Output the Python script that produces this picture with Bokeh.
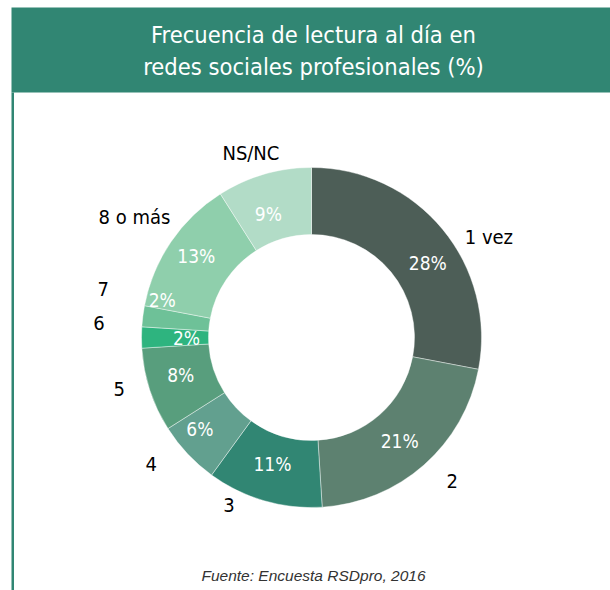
import math
from bokeh.plotting import figure
from bokeh.models import ColumnDataSource, Range1d
from bokeh.core.properties import value
from bokeh.embed import file_html
from bokeh.resources import INLINE

# ---- data ----
categories = ["1 vez", "2", "3", "4", "5", "6", "7", "8 o más", "NS/NC"]
percent = [28, 21, 11, 6, 8, 2, 2, 13, 9]
title_lines = ["Frecuencia de lectura al día en", "redes sociales profesionales (%)"]
source_note = "Fuente: Encuesta RSDpro, 2016"

# ---- style / layout ----
colors = ["#4d5e57", "#5d8170", "#318673", "#62a08f", "#589e7d",
          "#2eb47f", "#6ec198", "#8fcfac", "#b2dcc7"]
BANNER = "#318673"
W, H = 610, 590
CX, CY = 311, -337
R_IN, R_OUT = 103, 170
cat_nudge_deg = [10, -3, 10, 5, 3, 4, 6, 0, -2]
cat_radius = [204, 201, 187, 204, 199, 213, 214, 214, 194]
pct_nudge_deg = [7, 1, 1, 4, 2, 0, 7, 1, -3]
pct_radius = [138, 136, 132, 144, 136, 125, 154, 141, 131]
NARROW = "DejaVu Sans Condensed"

total = float(sum(percent))
starts, ends, mids = [], [], []
cum = 0.0
for v in percent:
    a0 = cum / total
    cum += v
    a1 = cum / total
    starts.append(math.pi / 2 - a0 * 2 * math.pi)
    ends.append(math.pi / 2 - a1 * 2 * math.pi)
    mids.append((a0 + a1) / 2 * 2 * math.pi)  # clockwise from top

def polar(theta_list, nudges, radii):
    xs, ys = [], []
    for t, n, r in zip(theta_list, nudges, radii):
        th = t + math.radians(n)
        xs.append(CX + r * math.sin(th))
        ys.append(CY + r * math.cos(th))
    return xs, ys

cx_lab, cy_lab = polar(mids, cat_nudge_deg, cat_radius)
px_lab, py_lab = polar(mids, pct_nudge_deg, pct_radius)

src = ColumnDataSource(dict(
    cat=categories, pct=[f"{v}%" for v in percent], color=colors,
    start=starts, end=ends, cx=cx_lab, cy=cy_lab, px=px_lab, py=py_lab,
))

p = figure(width=W, height=H, output_backend="svg", toolbar_location=None,
           x_range=Range1d(0, W), y_range=Range1d(-H, 0),
           min_border=0, outline_line_color=None)
p.axis.visible = False
p.grid.visible = False
p.background_fill_color = "white"
p.border_fill_color = "white"

# banner and left rule
p.quad(left=11, right=W, top=-7, bottom=-92, fill_color=BANNER, line_color=None)
p.quad(left=11, right=13.5, top=-92, bottom=-H, fill_color=BANNER, line_color=None)

tsrc = ColumnDataSource(dict(x=[313, 313], y=[-34, -66], t=title_lines))
p.text(x="x", y="y", text="t", source=tsrc, text_color="white",
       text_font=value(NARROW), text_font_size="23.5px",
       text_align="center", text_baseline="middle")

# donut
p.annular_wedge(x=CX, y=CY, inner_radius=R_IN, outer_radius=R_OUT,
                start_angle="start", end_angle="end", direction="clock",
                fill_color="color", line_color="white", line_width=0.7,
                line_alpha=0.6, source=src)

p.text(x="px", y="py", text="pct", source=src, text_color="white",
       text_font=value(NARROW), text_font_size="19px",
       text_align="center", text_baseline="middle")
p.text(x="cx", y="cy", text="cat", source=src, text_color="black",
       text_font=value(NARROW), text_font_size="20px",
       text_align="center", text_baseline="middle")

fsrc = ColumnDataSource(dict(x=[313], y=[-575], t=[source_note]))
p.text(x="x", y="y", text="t", source=fsrc, text_color="#333333",
       text_font=value("Liberation Sans"), text_font_style="italic",
       text_font_size="15.5px", text_align="center", text_baseline="middle")

open("out.html", "w").write(file_html(p, INLINE))
